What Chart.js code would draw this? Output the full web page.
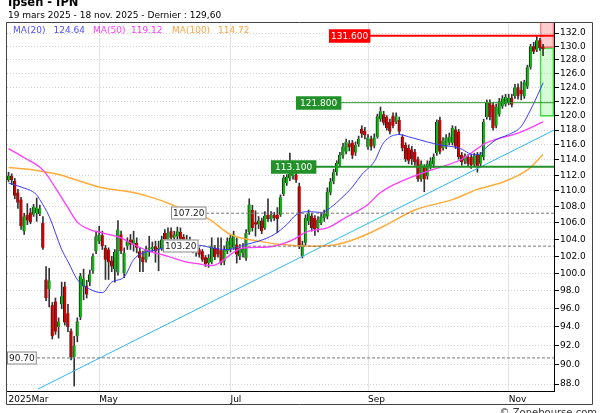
<!DOCTYPE html>
<html>
<head>
<meta charset="utf-8">
<script src="https://cdn.jsdelivr.net/npm/chart.js@4.4.1/dist/chart.umd.min.js"></script>
<style>
  body { margin: 0; background: #fff; }
  #wrap { position: relative; width: 600px; height: 413px; overflow: hidden; }
  #chart { position: absolute; left: 0; top: 0; }
  .title { position: absolute; left: 8px; top: -3px; font: bold 11.5px/11.5px "DejaVu Sans", sans-serif; color: #000; white-space: nowrap; }
  .sub { position: absolute; left: 8px; top: 11px; font: 9px/9px "DejaVu Sans", sans-serif; color: #000; white-space: nowrap; }
  .credit { position: absolute; right: 3px; top: 408px; font: 10px/10px "DejaVu Sans", sans-serif; color: #333; white-space: nowrap; }
</style>
</head>
<body>
<div id="wrap">
  <canvas id="chart" width="600" height="413"></canvas>
  <div class="title">Ipsen - IPN</div>
  <div class="sub">19 mars 2025 - 18 nov. 2025 - Dernier : 129,60</div>
  <div class="credit">© Zonebourse.com</div>
</div>
<script>
// daily candles, 19 mars -> 18 nov. 2025 (one entry per trading day)
const opens = [
  111.4, 111.9, 111.3, 109.8, 108.9, 105.0, 107.0, 107.3, 107.0, 107.2,
  107.1, 106.0, 99.3, 98.2, 96.4, 96.8, 94.0, 96.5, 98.5, 95.5,
  93.6, 90.8, 93.0, 95.1, 98.5, 98.6, 99.0, 100.3, 102.6, 103.8,
  104.5, 103.0, 102.8, 101.5, 100.5, 100.1, 104.6, 100.0, 103.2, 104.0,
  103.4, 103.6, 102.6, 101.9, 101.6, 102.8, 102.9, 103.2, 102.8, 102.9,
  104.8, 104.0, 105.0, 104.2, 104.4, 104.9, 104.3, 103.6, 104.0, 103.5,
  103.0, 102.8, 102.6, 101.9, 101.2, 101.3, 103.0, 102.9, 102.7, 101.4,
  102.6, 102.8, 103.0, 103.4, 102.0, 102.4, 101.8, 104.9, 107.6, 106.1,
  105.8, 106.3, 105.4, 107.0, 106.5, 107.0, 107.0, 107.0, 109.6, 111.0,
  111.6, 111.9, 112.1, 110.6, 102.0, 103.6, 106.2, 106.9, 106.6, 105.4,
  106.0, 106.6, 106.8, 109.8, 111.2, 112.4, 113.4, 114.6, 115.1, 116.2,
  116.3, 115.0, 116.1, 118.2, 117.9, 115.7, 116.8, 115.9, 117.1, 119.5,
  120.2, 119.8, 119.1, 119.9, 119.1, 119.4, 117.1, 116.0, 115.6, 115.4,
  115.1, 114.1, 111.5, 113.1, 111.9, 113.1, 113.4, 114.9, 119.4, 115.6,
  115.8, 116.3, 116.3, 118.1, 117.8, 114.7, 113.9, 114.4, 114.4, 113.4,
  114.7, 113.5, 114.4, 119.8, 121.8, 121.5, 118.6, 120.2, 121.3, 121.6,
  121.8, 122.5, 122.7, 124.0, 123.6, 122.7, 124.1, 126.9, 130.0, 129.5,
  130.9, 129.9
];
const highs = [
  112.4, 112.2, 111.6, 110.2, 109.2, 107.2, 108.4, 107.8, 108.3, 109.1,
  108.2, 106.8, 100.8, 100.6, 96.7, 97.2, 95.0, 99.0, 99.0, 96.5,
  93.8, 93.0, 95.0, 100.0, 100.5, 99.2, 100.4, 102.3, 105.0, 105.6,
  105.0, 103.3, 103.0, 102.0, 102.8, 106.3, 105.0, 103.0, 104.2, 104.6,
  105.0, 104.2, 103.0, 102.6, 103.2, 104.4, 103.7, 103.8, 103.8, 104.4,
  105.2, 105.4, 105.4, 105.0, 105.5, 105.4, 104.6, 104.5, 104.3, 103.8,
  103.4, 103.0, 102.8, 102.1, 102.2, 104.2, 103.3, 104.2, 104.2, 103.2,
  104.2, 104.6, 105.0, 104.2, 103.4, 103.5, 105.2, 109.0, 108.2, 107.5,
  106.8, 106.6, 107.4, 109.0, 107.4, 107.3, 107.9, 109.5, 112.0, 112.1,
  114.9, 112.6, 112.5, 111.0, 103.8, 107.0, 107.6, 107.2, 106.9, 106.8,
  107.2, 107.6, 110.4, 111.6, 112.8, 113.9, 115.0, 116.2, 116.8, 116.6,
  116.6, 116.4, 117.2, 118.6, 118.4, 117.4, 117.2, 117.5, 120.2, 121.2,
  120.6, 120.0, 119.5, 120.4, 120.4, 119.8, 117.4, 116.3, 116.0, 115.8,
  115.4, 114.4, 113.9, 113.4, 113.9, 114.3, 114.8, 119.4, 119.8, 117.0,
  117.4, 117.6, 118.6, 118.5, 118.1, 115.0, 114.8, 114.7, 114.7, 114.9,
  115.0, 115.0, 119.5, 122.2, 122.2, 121.8, 121.6, 122.4, 122.8, 123.0,
  123.0, 123.0, 124.4, 124.5, 124.8, 125.0, 127.2, 130.3, 130.6, 131.6,
  131.2, 130.3
];
const lows = [
  111.2, 110.8, 109.0, 107.8, 105.2, 104.6, 105.8, 105.9, 106.8, 106.2,
  106.9, 102.8, 96.9, 96.2, 92.7, 93.2, 92.8, 96.0, 94.2, 93.5,
  90.5, 87.8, 92.4, 94.8, 97.0, 97.2, 98.6, 100.0, 102.3, 103.5,
  102.8, 99.3, 99.3, 100.2, 99.0, 99.8, 102.3, 99.5, 102.8, 102.8,
  102.6, 102.4, 100.2, 100.2, 101.3, 102.0, 102.5, 101.3, 100.3, 102.7,
  103.6, 103.5, 103.8, 103.8, 104.0, 103.8, 103.2, 103.2, 103.0, 102.4,
  102.0, 101.9, 101.4, 100.8, 100.7, 101.1, 101.6, 101.9, 101.0, 101.0,
  102.3, 102.5, 102.8, 101.2, 101.6, 101.9, 101.5, 104.6, 105.0, 104.4,
  105.3, 104.7, 105.2, 106.2, 106.2, 106.3, 104.8, 106.8, 109.4, 110.7,
  111.3, 111.5, 111.1, 102.9, 101.8, 103.3, 105.8, 105.0, 104.5, 104.9,
  105.8, 106.2, 106.5, 109.5, 110.9, 112.0, 113.1, 114.2, 114.8, 115.2,
  114.2, 114.6, 115.8, 117.0, 116.8, 115.4, 115.3, 115.6, 116.9, 119.2,
  118.7, 118.0, 117.5, 118.3, 118.9, 117.4, 115.2, 113.8, 113.5, 113.4,
  113.3, 111.2, 111.2, 109.9, 111.5, 112.8, 113.0, 114.6, 114.8, 115.3,
  115.5, 116.0, 116.0, 115.5, 114.1, 113.3, 113.5, 113.2, 112.9, 113.1,
  112.4, 113.2, 114.0, 119.5, 119.4, 118.0, 118.3, 119.9, 121.0, 121.3,
  121.5, 121.2, 122.4, 122.3, 122.2, 122.4, 123.8, 126.6, 128.9, 129.2,
  129.4, 128.6
];
const closes = [
  111.9, 111.4, 109.4, 108.5, 105.6, 106.8, 106.3, 106.1, 108.0, 107.9,
  107.8, 103.0, 97.2, 99.2, 93.0, 93.5, 94.6, 97.4, 94.5, 94.0,
  90.8, 92.0, 94.6, 99.7, 99.4, 97.6, 99.9, 102.0, 104.4, 104.6,
  103.2, 101.6, 101.3, 100.8, 102.5, 105.2, 102.6, 102.4, 103.8, 103.4,
  104.0, 103.0, 101.8, 101.3, 102.8, 103.0, 103.1, 102.6, 103.0, 104.0,
  104.0, 104.8, 104.2, 104.6, 105.0, 104.1, 103.6, 104.0, 103.5, 103.0,
  102.7, 102.2, 101.6, 101.1, 101.8, 103.2, 101.9, 102.2, 101.2, 102.8,
  103.8, 104.2, 104.6, 102.2, 103.0, 102.9, 104.8, 108.3, 105.4, 105.8,
  106.3, 105.0, 106.9, 106.5, 107.0, 106.6, 106.5, 109.2, 111.7, 111.8,
  112.2, 112.3, 111.4, 103.1, 103.4, 106.6, 107.2, 105.4, 105.2, 106.4,
  106.8, 107.2, 109.9, 111.2, 112.4, 113.6, 114.7, 115.8, 116.4, 115.7,
  114.6, 116.0, 116.8, 117.5, 117.3, 117.0, 115.8, 117.0, 119.9, 120.6,
  119.0, 118.3, 117.8, 118.6, 119.9, 117.8, 115.6, 114.1, 113.9, 114.1,
  113.7, 111.5, 113.5, 111.5, 113.5, 113.9, 114.4, 119.1, 115.1, 116.6,
  117.0, 117.1, 118.3, 115.8, 114.4, 113.7, 114.5, 113.5, 113.3, 114.6,
  113.1, 114.7, 119.1, 121.8, 119.8, 118.3, 121.2, 122.0, 122.4, 122.6,
  122.5, 121.5, 124.0, 122.7, 123.0, 124.7, 126.9, 130.0, 129.2, 130.9,
  129.7, 129.6
];

// moving averages: [day index, value]
const ma20 = [
  [0, 111.0], [4, 110.5], [9, 109.5], [10, 108.9], [13, 106.8], [17, 102.8],
  [19, 101.4], [22, 99.3], [26, 98.2], [30, 97.8], [33, 99.0], [37, 99.6],
  [40, 101.6], [43, 102.4], [48, 102.8], [51, 103.2], [61, 103.3], [65, 103.0],
  [70, 102.8], [76, 103.4], [80, 103.8], [85, 104.6], [89, 105.8], [92, 107.0],
  [96, 107.4], [100, 107.3], [104, 108.2], [106, 108.9], [110, 110.5], [113, 112.1],
  [117, 113.8], [120, 116.3], [125, 117.4], [128, 117.1], [134, 116.4], [138, 116.0],
  [144, 115.6], [149, 114.7], [151, 114.8], [152, 115.3], [156, 116.7], [160, 117.4],
  [164, 118.5], [167, 120.8], [170, 123.6], [171, 124.64]
];
const ma50 = [
  [0, 115.5], [5, 114.3], [11, 112.7], [15, 110.4], [19, 107.9], [22, 106.1],
  [26, 105.2], [30, 104.8], [36, 104.2], [40, 103.4], [45, 102.6], [51, 102.0],
  [56, 101.4], [61, 101.1], [65, 100.9], [75, 103.0], [83, 103.1], [90, 103.8],
  [96, 105.0], [102, 105.4], [108, 106.7], [115, 108.3], [119, 109.8], [131, 112.1],
  [145, 114.1], [153, 116.3], [163, 117.6], [171, 119.12]
];
const ma100 = [
  [0, 113.0], [8, 112.7], [16, 112.1], [24, 111.1], [30, 110.4], [40, 109.8],
  [48, 108.9], [54, 108.0], [64, 106.5], [71, 104.6], [80, 103.8], [87, 103.4],
  [98, 103.2], [105, 103.4], [112, 104.2], [120, 105.6], [130, 107.6], [142, 108.9],
  [150, 110.2], [158, 111.1], [166, 112.7], [171, 114.72]
];
const trendLine = [[9.4, 87.5], [174.5, 118.0]];

const levels = [131.6, 121.8, 113.1, 107.2, 103.2, 90.7];
const redZone = [129.8, 134.5];
const greenZone = [119.9, 129.8];

const yTicks = [88, 90, 92, 94, 96, 98, 100, 102, 104, 106, 108, 110,
  112, 114, 116, 118, 120, 122, 124, 126, 128, 130, 132];
const monthTicks = [0, 29, 71, 115, 160];
const monthLabels = ['2025Mar', 'May', 'Jul', 'Sep', 'Nov'];

// styling
const FONT = '"DejaVu Sans", sans-serif';
const UP = '#12b312';
const DOWN = '#d40000';
const levelStyle = [
  { start: 102.5, color: '#ff0000', width: 2, dash: [], box: '#ff0000', text: '#fff', dec: 3, pad: 2 },
  { start: 92, color: '#2c962c', width: 1, dash: [], box: '#23912a', text: '#fff', dec: 3, pad: 4 },
  { start: 84, color: '#23912a', width: 2, dash: [], box: '#23912a', text: '#fff', dec: 3, pad: 4 },
  { start: 52, color: '#777', width: 1, dash: [3, 2], box: '#fff', text: '#222', dec: 2, pad: 2 },
  { start: 49.4, color: '#777', width: 1, dash: [3, 2], box: '#fff', text: '#222', dec: 2, pad: 2 },
  { start: -0.5, color: '#777', width: 1, dash: [3, 2], box: '#fff', text: '#222', dec: 2, pad: 2 }
];
const maInfo = [
  { name: 'MA(20)', data: ma20, color: '#3a3aff', text: '#5050ff', width: 1, x: 13, vx: 53.5 },
  { name: 'MA(50)', data: ma50, color: '#ff3cff', text: '#ff3cff', width: 1.3, x: 93, vx: 131 },
  { name: 'MA(100)', data: ma100, color: '#ffad3a', text: '#ffa640', width: 1.5, x: 172, vx: 218 }
];

const datasets = [];

maInfo.forEach(m => {
  datasets.push({
    type: 'line',
    data: m.data.map(p => ({ x: p[0], y: p[1] })),
    borderColor: m.color,
    borderWidth: m.width,
    pointRadius: 0,
    cubicInterpolationMode: 'monotone',
    order: 1
  });
});

datasets.push({
  type: 'line',
  data: trendLine.map(p => ({ x: p[0], y: p[1] })),
  borderColor: '#2cb9ee',
  borderWidth: 1,
  pointRadius: 0,
  order: 1
});

levels.forEach((v, i) => {
  const s = levelStyle[i];
  datasets.push({
    type: 'line',
    data: [{ x: s.start, y: v }, { x: 174.5, y: v }],
    borderColor: s.color,
    borderWidth: s.width,
    borderDash: s.dash,
    pointRadius: 0,
    order: 0
  });
});

// candle bodies
datasets.push({
  type: 'bar',
  data: opens.map((o, i) => ({ x: i, y: [o, closes[i]] })),
  backgroundColor: opens.map((o, i) => closes[i] >= o ? UP : DOWN),
  borderColor: '#222',
  borderWidth: { left: 1, right: 0, top: 0, bottom: 0 },
  borderSkipped: false,
  barThickness: 3,
  minBarLength: 1,
  grouped: false,
  order: 5
});
// wicks
datasets.push({
  type: 'bar',
  data: lows.map((l, i) => ({ x: i, y: [l, highs[i]] })),
  backgroundColor: '#333',
  barThickness: 1,
  grouped: false,
  order: 6
});
// target zones
datasets.push({
  type: 'bar',
  data: [{ x: 172.25, y: redZone }],
  backgroundColor: 'rgba(255, 90, 90, 0.3)',
  borderColor: 'rgba(255, 60, 60, 0.6)',
  borderWidth: 1,
  borderSkipped: false,
  barThickness: 14,
  grouped: false,
  order: 7
});
datasets.push({
  type: 'bar',
  data: [{ x: 172.25, y: greenZone }],
  backgroundColor: 'rgba(90, 240, 90, 0.25)',
  borderColor: '#3ad83a',
  borderWidth: 1,
  borderSkipped: false,
  barThickness: 14,
  grouped: false,
  order: 7
});

const overlay = {
  id: 'overlay',
  afterDatasetsDraw(chart) {
    const { ctx, scales: { x, y } } = chart;
    ctx.save();
    ctx.font = '9px ' + FONT;
    ctx.textBaseline = 'middle';
    ctx.textAlign = 'left';
    levels.forEach((v, i) => {
      const s = levelStyle[i];
      const txt = v.toFixed(s.dec);
      const w = ctx.measureText(txt).width + s.pad * 2;
      const h = 13;
      const px = Math.round(Math.max(x.getPixelForValue(s.start), 6));
      const py = Math.round(y.getPixelForValue(v));
      ctx.fillStyle = s.box;
      ctx.fillRect(px, py - h / 2, w, h);
      ctx.strokeStyle = s.box === '#fff' ? '#888' : s.box;
      ctx.lineWidth = 1;
      ctx.strokeRect(px + 0.5, py - h / 2 + 0.5, w - 1, h - 1);
      ctx.fillStyle = s.text;
      ctx.fillText(txt, px + s.pad, py + 0.5);
    });
    ctx.restore();
  },
  afterDraw(chart) {
    const { ctx } = chart;
    ctx.save();
    // frames
    ctx.strokeStyle = '#444';
    ctx.lineWidth = 1;
    ctx.beginPath();
    ctx.moveTo(6.5, 22.5); ctx.lineTo(592.5, 22.5);
    ctx.lineTo(592.5, 404.5); ctx.lineTo(6.5, 404.5);
    ctx.closePath();
    ctx.stroke();
    // legend
    ctx.font = '9px ' + FONT;
    ctx.textBaseline = 'alphabetic';
    maInfo.forEach(m => {
      ctx.fillStyle = m.text;
      ctx.fillText(m.name, m.x, 33);
      ctx.fillText(m.data[m.data.length - 1][1].toFixed(2), m.vx, 33);
    });
    ctx.restore();
  }
};

new Chart(document.getElementById('chart'), {
  type: 'bar',
  data: { datasets },
  options: {
    responsive: false,
    animation: false,
    events: [],
    layout: { padding: { left: 7, right: 7, top: 22, bottom: 8 } },
    plugins: { legend: { display: false }, tooltip: { enabled: false } },
    scales: {
      x: {
        type: 'linear',
        min: -0.5,
        max: 174.5,
        offset: false,
        afterBuildTicks: s => { s.ticks = monthTicks.map(v => ({ value: v })); },
        afterFit: s => { s.height = 14; },
        grid: {
          offset: false,
          drawTicks: false,
          color: c => c.index === 0 ? 'rgba(0,0,0,0)' : '#e3e3e3'
        },
        border: { color: '#000' },
        ticks: {
          align: 'start',
          padding: 3,
          maxRotation: 0,
          autoSkip: false,
          color: '#000',
          font: { family: FONT, size: 9 },
          callback: (v, i) => monthLabels[i]
        }
      },
      y: {
        type: 'logarithmic',
        position: 'right',
        min: 87.3,
        max: 133.7,
        afterBuildTicks: s => { s.ticks = yTicks.map(v => ({ value: v })); },
        afterFit: s => { s.width = 39; },
        grid: { color: '#d2d2d2', tickColor: '#000', tickLength: 5 },
        border: { color: '#000', dash: [1, 2] },
        ticks: {
          padding: 1,
          color: '#000',
          font: { family: FONT, size: 9 },
          callback: v => Number(v).toFixed(1)
        }
      }
    }
  },
  plugins: [overlay]
});
</script>
</body>
</html>
